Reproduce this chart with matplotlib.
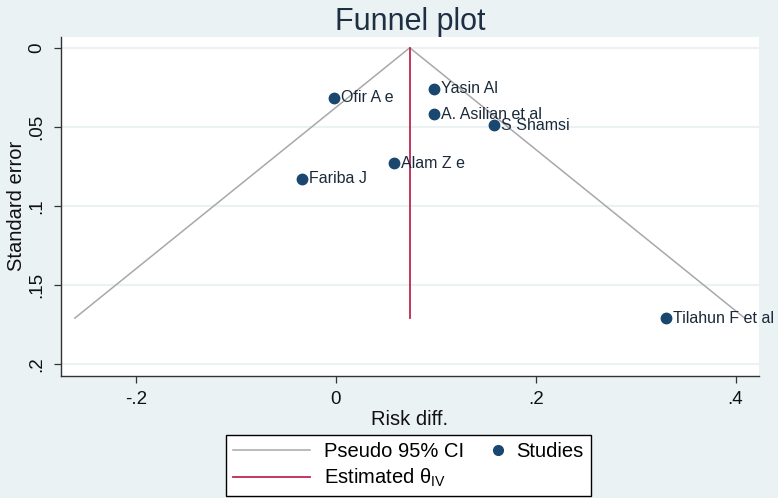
import matplotlib
matplotlib.use("Agg")
import matplotlib.pyplot as plt
from matplotlib.lines import Line2D
from matplotlib.legend_handler import HandlerLine2D

plt.rcParams['font.family'] = ['Liberation Sans', 'DejaVu Sans']
plt.rcParams['mathtext.fontset'] = 'custom'
plt.rcParams['mathtext.rm'] = 'Liberation Sans'
plt.rcParams['mathtext.it'] = 'Liberation Sans'

# studies: risk difference and standard error
studies = ['Ofir A e', 'Yasin Al', 'A. Asilian et al', 'S Shamsi',
           'Alam Z e', 'Fariba J', 'Tilahun F et al']
risk_diff = [-0.002, 0.098, 0.098, 0.158, 0.058, -0.034, 0.330]
std_err = [0.0316, 0.026, 0.042, 0.049, 0.073, 0.083, 0.171]

theta_iv = 0.074
se_max = 0.171
z95 = 1.96

xticks = [-0.2, 0, 0.2, 0.4]
xtick_labels = ['-.2', '0', '.2', '.4']
yticks = [0, 0.05, 0.1, 0.15, 0.2]
ytick_labels = ['0', '.05', '.1', '.15', '.2']

bg = '#eaf2f3'
navy = '#1a476f'
red = '#c0284f'
grey = '#a8a8a8'


class MarkerRight(HandlerLine2D):
    # marker sits at the right end of the handle, as in Stata legends
    def get_xdata(self, legend, xdescent, ydescent, width, height, fontsize):
        m = -xdescent + width - 0.2 * fontsize
        return [m, m], [m]


fig = plt.figure(figsize=(7.78, 4.98), dpi=100, facecolor=bg)
ax = fig.add_axes([0.0784, 0.245, 0.8972, 0.6813])
ax.set_facecolor('white')

for y in yticks:
    ax.axhline(y, color=bg, lw=1.5, zorder=0)

# pseudo 95% CI funnel
ax.plot([theta_iv - z95 * se_max, theta_iv, theta_iv + z95 * se_max],
        [se_max, 0, se_max], color=grey, lw=1.1, zorder=1)
# estimated effect
ax.plot([theta_iv, theta_iv], [0, se_max], color=red, lw=1.3, zorder=2)

ax.plot(risk_diff, std_err, 'o', color=navy, ms=7.5, zorder=3, clip_on=False)
for name, x, y in zip(studies, risk_diff, std_err):
    ax.annotate(name, (x, y), xytext=(5.5, 0), textcoords='offset points',
                va='center', ha='left', fontsize=11.5, color='#1a2a3a',
                annotation_clip=False)

ax.set_xlim(-0.275, 0.4235)
ax.set_ylim(0.2076, -0.007)

ax.set_xticks(xticks)
ax.set_xticklabels(xtick_labels)
ax.set_yticks(yticks)
ax.set_yticklabels(ytick_labels, rotation=90, va='center')
ax.tick_params(axis='both', labelsize=13.5, length=5, width=0.9,
               color='#333333', labelcolor='#111111', pad=6)

for s in ['top', 'right']:
    ax.spines[s].set_visible(False)
for s in ['left', 'bottom']:
    ax.spines[s].set_color('#333333')
    ax.spines[s].set_linewidth(1.0)

ax.set_xlabel('Risk diff.', fontsize=14.5, color='#111111', labelpad=1)
ax.set_ylabel('Standard error', fontsize=14.5, color='#111111', labelpad=2)
ax.set_title('Funnel plot', fontsize=22, color='#1e2f44', pad=4)

studies_handle = Line2D([], [], ls='none', marker='o', color=navy, ms=7)
handles = [Line2D([], [], color=grey, lw=1.1),
           Line2D([], [], color=red, lw=1.3),
           studies_handle]
labels = ['Pseudo 95% CI', r'Estimated $\theta_{\mathrm{IV}}$', 'Studies']
leg = fig.legend(handles, labels, ncol=2, loc='lower center',
                 bbox_to_anchor=(0.525, 0.0), borderaxespad=0.1,
                 fontsize=14.5, fancybox=False, edgecolor='black',
                 framealpha=1, handlelength=3.8, columnspacing=-1.9,
                 handletextpad=0.7, labelspacing=0.3, borderpad=0.35,
                 handler_map={studies_handle: MarkerRight()})
leg.get_frame().set_linewidth(1.0)

fig.savefig('out.png', dpi=100, facecolor=bg)
